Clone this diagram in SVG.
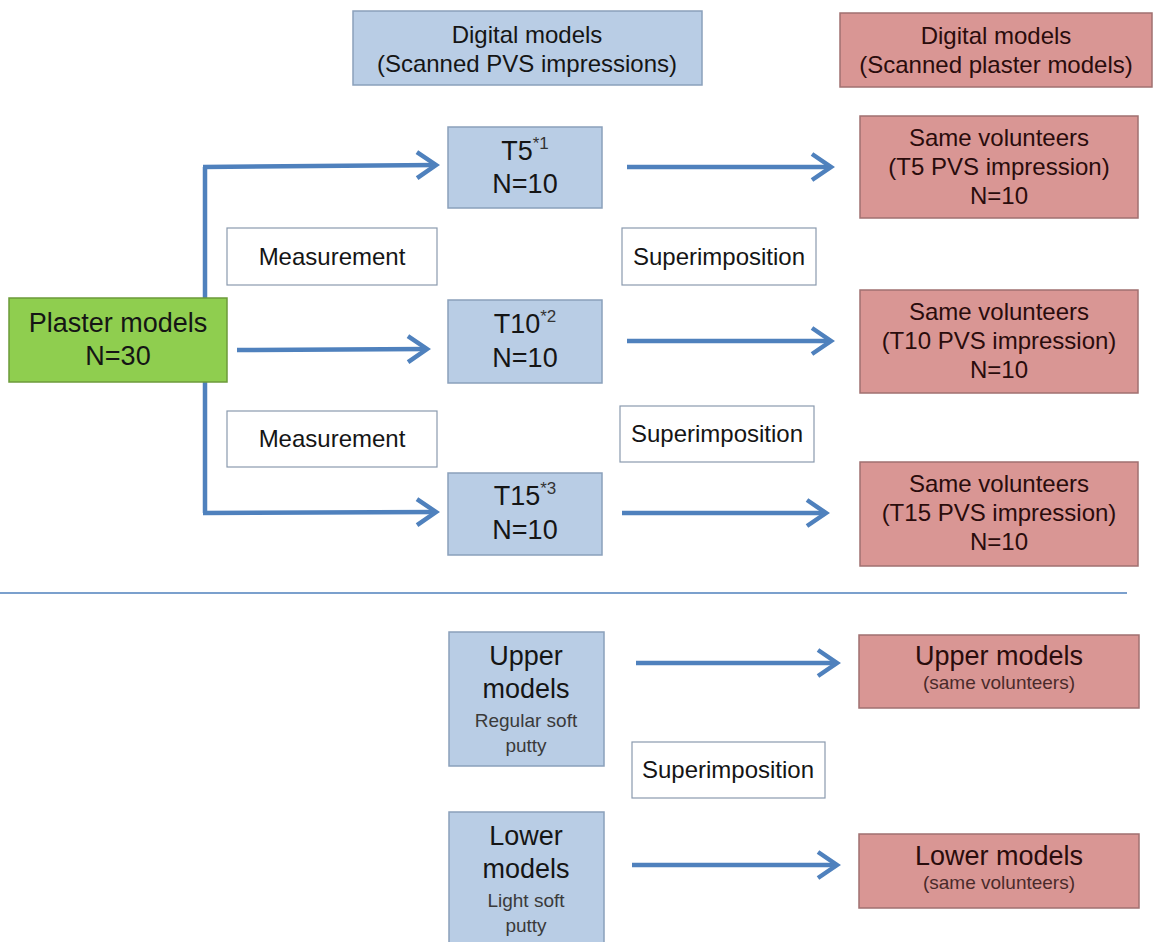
<svg xmlns="http://www.w3.org/2000/svg" width="1153" height="942" viewBox="0 0 1153 942">
<defs>
<style>
.blue{fill:#b9cde5;stroke:#8aa0bb;stroke-width:1.5}
.pink{fill:#d99694;stroke:#a07070;stroke-width:1.5}
.green{fill:#8fce4f;stroke:#6c9a3a;stroke-width:1.5}
.white{fill:#ffffff;stroke:#8a9aae;stroke-width:1.2}
text{font-family:"Liberation Sans",Arial,sans-serif;fill:#151515;text-anchor:middle}
.t24{font-size:24px}
.t27{font-size:27px}
.t19{font-size:19px;fill:#3a3a3a}
.sup{font-size:17px;fill:#333333}
.pk{fill:#2a0c0c}
.pks{fill:#4a2a2a}
.conn{fill:none;stroke:#4f81bd;stroke-width:4.5}
</style>
<marker id="ah" markerUnits="userSpaceOnUse" markerWidth="30" markerHeight="32" refX="24" refY="16" orient="auto">
<path d="M5,3 L24,16 L5,29" fill="none" stroke="#4f81bd" stroke-width="4.5" stroke-linejoin="miter"/>
</marker>
</defs>
<rect width="1153" height="942" fill="#ffffff"/>

<g id="connectors">
<path class="conn" d="M205,167 L205,513"/>
<path class="conn" d="M203,167 L436,165" marker-end="url(#ah)"/>
<path class="conn" d="M203,513 L436,512" marker-end="url(#ah)"/>
<path class="conn" d="M237,350 L427,349" marker-end="url(#ah)"/>
<path class="conn" d="M627,167 L831,167" marker-end="url(#ah)"/>
<path class="conn" d="M627,341 L831,341" marker-end="url(#ah)"/>
<path class="conn" d="M622,513 L826,513" marker-end="url(#ah)"/>
<path class="conn" d="M636,663 L837,663" marker-end="url(#ah)"/>
<path class="conn" d="M632,865 L837,865" marker-end="url(#ah)"/>
<line x1="0" y1="593" x2="1127" y2="593" stroke="#4f81bd" stroke-width="1.5"/>
</g>

<g id="header-pvs">
<rect class="blue" x="353" y="11" width="349" height="74"/>
<text class="t24" x="527" y="43">Digital models</text>
<text class="t24" x="527" y="72">(Scanned PVS impressions)</text>
</g>
<g id="header-plaster">
<rect class="pink" x="840" y="13" width="312" height="74"/>
<text class="t24 pk" x="996" y="44">Digital models</text>
<text class="t24 pk" x="996" y="73">(Scanned plaster models)</text>
</g>

<g id="plaster">
<rect class="green" x="9" y="298" width="218" height="84"/>
<text class="t27" x="118" y="332">Plaster models</text>
<text class="t27" x="118" y="365">N=30</text>
</g>

<g id="meas1">
<rect class="white" x="227" y="228" width="210" height="57"/>
<text class="t24" x="332" y="265">Measurement</text>
</g>
<g id="meas2">
<rect class="white" x="227" y="411" width="210" height="56"/>
<text class="t24" x="332" y="447">Measurement</text>
</g>

<g id="t5">
<rect class="blue" x="448" y="127" width="154" height="81"/>
<text class="t27" x="525" y="160">T5<tspan class="sup" dy="-11">*1</tspan></text>
<text class="t27" x="525" y="193">N=10</text>
</g>
<g id="t10">
<rect class="blue" x="448" y="300" width="154" height="83"/>
<text class="t27" x="525" y="333">T10<tspan class="sup" dy="-11">*2</tspan></text>
<text class="t27" x="525" y="367">N=10</text>
</g>
<g id="t15">
<rect class="blue" x="448" y="473" width="154" height="82"/>
<text class="t27" x="525" y="505">T15<tspan class="sup" dy="-11">*3</tspan></text>
<text class="t27" x="525" y="539">N=10</text>
</g>

<g id="sup1">
<rect class="white" x="622" y="228" width="194" height="57"/>
<text class="t24" x="719" y="265">Superimposition</text>
</g>
<g id="sup2">
<rect class="white" x="620" y="406" width="194" height="56"/>
<text class="t24" x="717" y="442">Superimposition</text>
</g>

<g id="same5">
<rect class="pink" x="860" y="116" width="278" height="102"/>
<text class="t24 pk" x="999" y="146">Same volunteers</text>
<text class="t24 pk" x="999" y="175">(T5 PVS impression)</text>
<text class="t24 pk" x="999" y="204">N=10</text>
</g>
<g id="same10">
<rect class="pink" x="860" y="290" width="278" height="103"/>
<text class="t24 pk" x="999" y="320">Same volunteers</text>
<text class="t24 pk" x="999" y="349">(T10 PVS impression)</text>
<text class="t24 pk" x="999" y="378">N=10</text>
</g>
<g id="same15">
<rect class="pink" x="860" y="462" width="278" height="104"/>
<text class="t24 pk" x="999" y="492">Same volunteers</text>
<text class="t24 pk" x="999" y="521">(T15 PVS impression)</text>
<text class="t24 pk" x="999" y="550">N=10</text>
</g>

<g id="upper">
<rect class="blue" x="449" y="632" width="155" height="134"/>
<text class="t27" x="526" y="665">Upper</text>
<text class="t27" x="526" y="698">models</text>
<text class="t19" x="526" y="727">Regular soft</text>
<text class="t19" x="526" y="752">putty</text>
</g>
<g id="lower">
<rect class="blue" x="449" y="812" width="155" height="140"/>
<text class="t27" x="526" y="845">Lower</text>
<text class="t27" x="526" y="878">models</text>
<text class="t19" x="526" y="907">Light soft</text>
<text class="t19" x="526" y="932">putty</text>
</g>

<g id="sup3">
<rect class="white" x="632" y="742" width="193" height="56"/>
<text class="t24" x="728" y="778">Superimposition</text>
</g>

<g id="upper-pink">
<rect class="pink" x="859" y="635" width="280" height="73"/>
<text class="t27 pk" x="999" y="665">Upper  models</text>
<text class="t19 pks" x="999" y="689">(same volunteers)</text>
</g>
<g id="lower-pink">
<rect class="pink" x="859" y="834" width="280" height="74"/>
<text class="t27 pk" x="999" y="865">Lower models</text>
<text class="t19 pks" x="999" y="889">(same volunteers)</text>
</g>
</svg>
